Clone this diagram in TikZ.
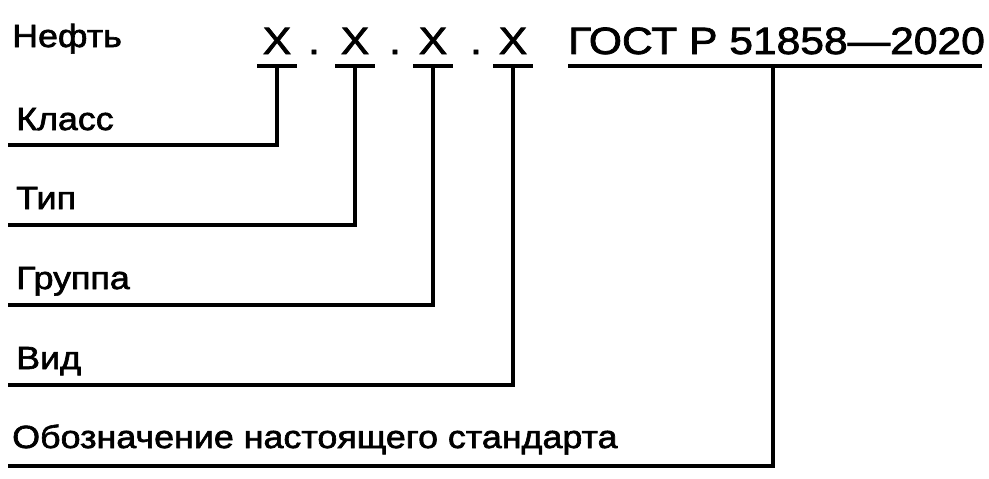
\documentclass[tikz,border=0pt]{standalone}
\usepackage{fontspec}
\setmainfont[FakeStretch=1.12, FakeBold=2]{Liberation Sans}
\usetikzlibrary{positioning}

\begin{document}
\begin{tikzpicture}[x=1pt, y=-1pt,
      lbl/.style={anchor=base west, inner sep=0pt, font=\fontsize{32}{32}\selectfont},
      code/.style={anchor=base, inner sep=0pt, font=\fontsize{38}{38}\selectfont},
      ln/.style={line width=4.5pt, black}]
    \useasboundingbox (0,0) rectangle (989,479);
    \node[lbl] (oil) at (12,47) {Нефть};
    \node[code] (x1) at (277,54) {X};
    \node[code] (d1) at (314,54) {.};
    \node[code] (x2) at (355,54) {X};
    \node[code] (d2) at (395,54) {.};
    \node[code] (x3) at (433,54) {X};
    \node[code] (d3) at (476,54) {.};
    \node[code] (x4) at (513,54) {X};
    \node[code, anchor=base west] (gost) at (568,54) {ГОСТ Р 51858—2020};
    \node[lbl] (cls) at (16,130) {Класс};
    \node[lbl] (typ) at (16,209) {Тип};
    \node[lbl] (grp) at (16,289) {Группа};
    \node[lbl] (kind) at (16,369) {Вид};
    \node[lbl] (std) at (12,448) {Обозначение настоящего стандарта};
    % underlines
    \foreach \n/\c in {1/277, 2/355, 3/433, 4/513} {
      \draw[ln] (\c-20,66) -- (\c+20,66);
      \coordinate (u\n) at (\c,66);
    }
    \draw[ln] (568,66) -- (982,66);
    \coordinate (u5) at (773,66);
    % ends of the leader lines
    \coordinate (e1) at (8,145);
    \coordinate (e2) at (8,225);
    \coordinate (e3) at (8,305);
    \coordinate (e4) at (8,385);
    \coordinate (e5) at (8,466);
    % leaders
    \foreach \n in {1,...,5}
      \draw[ln] (u\n) |- (e\n);
  \end{tikzpicture}
\end{document}
